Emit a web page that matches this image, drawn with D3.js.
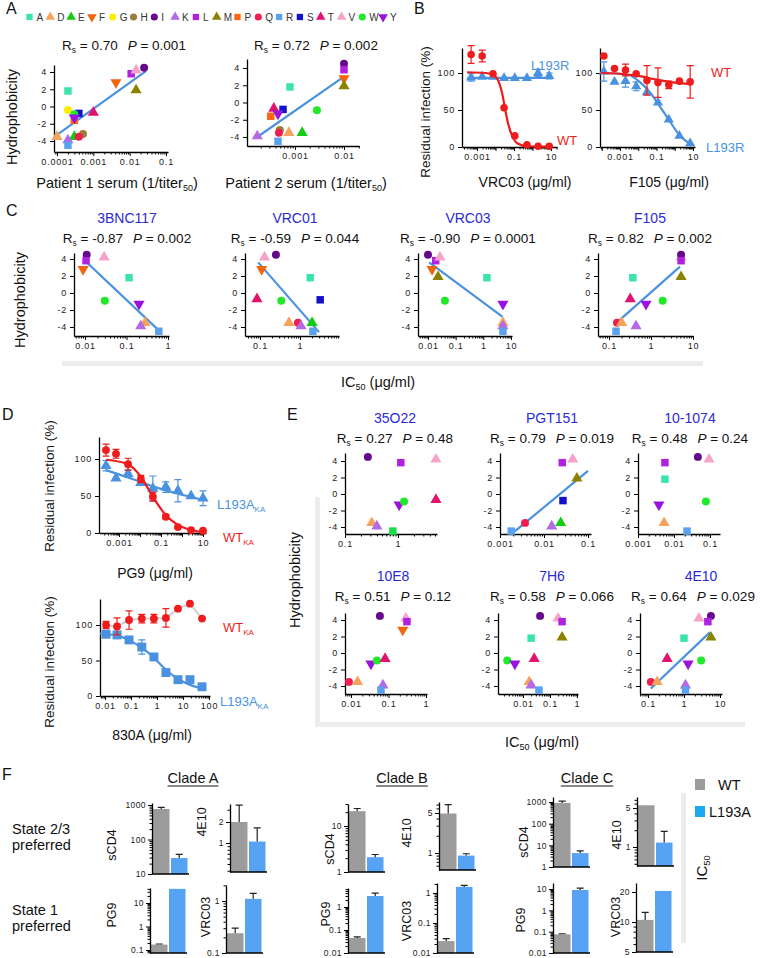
<!DOCTYPE html>
<html lang="en">
<head>
<meta charset="UTF-8">
<title>Position 193 hydrophobicity and neutralization</title>
<script src="https://cdn.jsdelivr.net/npm/d3@7/dist/d3.min.js"></script>
<style>
  body { margin: 0; background: #fff; }
  svg { display: block; font-family: Arial, "Liberation Sans", sans-serif; }
  .axis path.domain { stroke: #000; stroke-width: 1.3px; }
  .axis .tick line { stroke: #000; stroke-width: 1px; }
  .axis text { font-family: Arial, "Liberation Sans", sans-serif; font-size: 9px; letter-spacing: 0.8px; fill: #222; }
  .bar-axis text { font-size: 8.5px; letter-spacing: 0.4px; }
</style>
</head>
<body>
<svg width="760" height="958"></svg>
<script>
// ---------- data ----------
// residue at position 193 and its Kyte-Doolittle hydrophobicity
var aminoAcids = ["A","D","E","F","G","H","I","K","L","M","P","Q","R","S","T","V","W","Y"];
var hydrophobicity = [1.8,-3.5,-3.5,2.8,-0.4,-3.2,4.5,-3.9,3.8,1.9,-1.6,-3.5,-4.5,-0.8,-0.7,4.2,-0.9,-1.3];
var hydroTicks = [-4, -2, 0, 2, 4];
var infectionTicks = [0, 50, 100];

// A: serum sensitivity (1/titer50)
var patient1Serum = [["A",2e-4],["D",1e-4],["E",3e-4],["F",4.2e-3],["G",2e-4],["H",5.2e-4],["I",0.025],["K",2e-4],["L",0.011],["M",0.015],["P",3e-4],["Q",4e-4],["R",2e-4],["S",4e-4],["T",1e-3],["V",0.015],["W",3e-4],["Y",3e-4]];
var patient2Serum = [["A",7.9e-4],["D",7.5e-4],["E",1.4e-3],["F",0.01],["H",4.9e-4],["I",0.01],["K",1.7e-4],["L",0.01],["M",0.01],["P",3.2e-4],["Q",4.7e-4],["R",4.5e-4],["S",5.7e-4],["T",3.7e-4],["W",2.8e-3],["Y",4.5e-4]];
var patient1Fit = [[1e-4,-3.3],[0.028,4.1]];
var patient2Fit = [[1.7e-4,-4.0],[0.01,3.0]];
var aRs = ["0.70","0.72"], aP = ["0.001","0.002"];

// C: IC50 (ug/ml) of CD4bs antibodies
var cAntibodies = ["3BNC117","VRC01","VRC03","F105"];
var cRs = ["-0.87","-0.59","-0.90","0.82"], cP = ["0.002","0.044","0.0001","0.002"];
var ic50_3BNC117 = [["I",0.011],["L",0.0106],["F",0.009],["V",0.029],["A",0.115],["W",0.03],["Y",0.2],["D",0.28],["K",0.22],["R",0.6]];
var ic50_VRC01 = [["V",0.13],["I",0.25],["F",0.11],["A",1.8],["T",0.084],["W",0.34],["S",3.2],["D",0.53],["Q",0.89],["K",1.06],["E",2.0],["R",2.1]];
var ic50_VRC03 = [["I",0.01],["L",0.019],["V",0.027],["F",0.014],["M",0.023],["A",1.35],["W",0.041],["Y",5.1],["D",5.1],["K",5.1],["R",5.1]];
var ic50_F105 = [["V",5.2],["I",5.2],["L",5.2],["M",5.2],["A",0.37],["T",0.32],["Y",0.76],["W",1.9],["Q",0.155],["D",0.2],["K",0.44],["R",0.147]];
var fit_3BNC117 = [[0.01,3.8],[0.6,-4.4]];
var fit_VRC01 = [[0.09,3.6],[3,-4.6]];
var fit_VRC03 = [[0.011,3.6],[5,-2.8]];
var fit_F105 = [[0.16,-3.4],[4.9,3.1]];

// E: IC50 (ug/ml) of other antibodies
var eAntibodies = ["35O22","PGT151","10-1074","10E8","7H6","4E10"];
var eRs = ["0.27","0.79","0.48","0.51","0.58","0.64"], eP = ["0.48","0.019","0.24","0.12","0.066","0.029"];
var ic50_35O22 = [["I",0.27],["L",1.13],["V",5.2],["Y",1.05],["W",1.3],["T",5.2],["D",0.32],["K",0.4],["R",0.8]];
var ic50_PGT151 = [["L",0.026],["V",0.045],["M",0.056],["S",0.027],["E",0.024],["Q",0.0037],["K",0.015],["R",0.0018]];
var ic50_10_1074 = [["I",0.046],["V",0.094],["L",0.0056],["A",0.0056],["Y",0.0038],["W",0.077],["D",0.0053],["R",0.023]];
var ic50_10E8 = [["I",0.059],["V",0.29],["L",0.31],["F",0.24],["Y",0.034],["W",0.049],["T",0.081],["Q",0.0088],["D",0.015],["K",0.071],["R",0.063]];
var ic50_7H6 = [["I",0.043],["V",0.2],["L",0.28],["A",0.02],["M",0.28],["W",0.0026],["Y",0.005],["T",0.026],["D",0.017],["K",0.02],["R",0.039]];
var ic50_4E10 = [["V",2.6],["I",5.6],["L",4.6],["A",1.0],["M",5.6],["T",0.34],["Y",1.3],["W",3.0],["Q",0.12],["D",0.18],["K",1.1],["R",1.1]];
var fit_PGT151 = [[0.0022,-4.5],[0.1,2.8]];
var fit_4E10 = [[0.12,-4.3],[5.2,2.5]];

// B: dose response (% residual infection)
var vrc03Conc = [4.8e-4,1.9e-3,7.3e-3,0.029,0.11,0.5,2,8];
var vrc03WT = [125,123,99,53,15,3,1,1];
var vrc03WTErr = [12,8,0,0,0,0,0,0];
var vrc03L193R = [94,95,95,93,93,93,100,96];
var vrc03L193RErr = [5,0,0,0,0,0,5,4];
var vrc03WTCurve = [[2.9e-4,101],[3e-3,100],[0.008,97],[0.015,88],[0.025,68],[0.035,48],[0.05,30],[0.08,15],[0.15,5],[0.5,1],[8,0.5]];
var vrc03L193RCurve = [[3e-4,93.5],[8,93.5]];
var f105Conc = [1.3e-4,5e-4,2e-3,7.7e-3,0.03,0.12,0.47,1.8,7];
var f105WT = [123,106,104,99,90,87,84,89,88];
var f105WTErr = [0,0,8,0,20,20,5,0,22];
var f105L193R = [102,88,89,82,74,60,37,15,5];
var f105L193RErr = [13,0,8,6,0,0,0,0,0];
var f105WTCurve = [[9e-5,100],[1e-3,99],[0.01,96],[0.1,91],[1,87],[7,85]];
var f105L193RCurve = [[9e-5,100],[2.4e-3,98],[0.012,88],[0.05,72],[0.11,60],[0.44,38],[1.7,17],[8,3]];

// D: dose response of KA-modified envelopes
var pg9Conc = [2.4e-4,7.2e-4,2.7e-3,0.011,0.041,0.17,0.64,2.7,10];
var pg9WT = [112,107,93,73,49,22,8,4,3];
var pg9WTErr = [8,6,8,5,6,3,0,0,0];
var pg9L193A = [91,74,80,68,60,62,57,50,47];
var pg9L193AErr = [7,0,5,0,17,7,15,0,10];
var pg9WTCurve = [[2.4e-4,99],[2.7e-3,93],[0.011,76],[0.041,49],[0.17,24],[0.64,11],[2.7,4],[10,1]];
var pg9L193ACurve = [[2.4e-4,85],[2.7e-3,75],[0.041,63],[0.64,53],[10,45]];
var a830Conc = [0.011,0.029,0.084,0.26,0.76,2.2,6.4,18.5,54];
var a830WT = [100,98,107,109,109,110,123,130,109];
var a830WTErr = [5,12,13,6,6,13,0,0,0];
var a830L193A = [87,86,79,69,55,33,23,23,13];
var a830L193AErr = [0,0,0,10,0,0,0,0,0];
var a830L193ACurve = [[0.0064,88],[0.03,85],[0.09,78],[0.26,68],[0.7,55],[2.2,37],[6.4,24],[18,16],[58,10]];

// F: IC50 bars, order per clade: sCD4, 4E10, PG9, VRC03
var clades = ["Clade A","Clade B","Clade C"];
var barReagents = ["sCD4","4E10","PG9","VRC03"];
var barWT = [[765,2.0,0.17,0.24],[21,4.9,0.045,0.025],[900,5.6,0.075,10.5]];
var barWTErr = [[850,3.5,0.18,0.3],[24,7,0.05,0.03],[1100,null,0.08,12.5]];
var barL193A = [[29,1.05,40,1.1],[2.1,0.9,3,1.6],[4.4,1.2,9,20.5]];
var barL193AErr = [[37,1.65,null,1.4],[2.4,0.97,4,1.8],[5.5,1.9,11,null]];

// ---------- styles ----------
var aaStyle = {
  A: ["square", "#3de3ae"], D: ["tri", "#f5a35c"], E: ["tri", "#14cc14"], F: ["down", "#f2650f"],
  G: ["circle", "#ffee00"], H: ["circle", "#9a7f3c"], I: ["circle", "#650a8a"], K: ["tri", "#b46ae4"],
  L: ["square", "#b021e0"], M: ["tri", "#8a8200"], P: ["square", "#ff6512"], Q: ["circle", "#f01e50"],
  R: ["square", "#5aa2ef"], S: ["square", "#1212c8"], T: ["tri", "#e0146e"], V: ["tri", "#f5a3cb"],
  W: ["circle", "#22e82a"], Y: ["down", "#9a12dc"]
};
var RED = "#ee1c1c", BLUE = "#4a92e0", TITLE = "#2b2bd6", BAND = "#ececec";

var svg = d3.select("svg");

// ---------- helpers ----------
function anchorLog(v0, p0, v1, p1, a0, a1) {
  var s = d3.scaleLog().domain([v0, v1]).range([p0, p1]);
  return d3.scaleLog().domain([s.invert(a0), s.invert(a1)]).range([a0, a1]);
}
function anchorLin(v0, p0, v1, p1, a0, a1) {
  var s = d3.scaleLinear().domain([v0, v1]).range([p0, p1]);
  return d3.scaleLinear().domain([s.invert(a0), s.invert(a1)]).range([a0, a1]);
}
function fmtNum(v) { return String(+v.toPrecision(4)); }
function isPow10(v) { var l = Math.log10(v); return Math.abs(l - Math.round(l)) < 1e-6; }
function hasVal(list, v) { return list.some(function (l) { return Math.abs(l - v) <= Math.abs(l) * 1e-6; }); }
function logTicks(dom) {
  var lo = Math.min(dom[0], dom[1]), hi = Math.max(dom[0], dom[1]), out = [];
  for (var e = -6; e <= 4; e++) for (var m = 1; m <= 9; m++) {
    var v = +(m * Math.pow(10, e)).toPrecision(4);
    if (v >= lo * 0.9999 && v <= hi * 1.0001) out.push(v);
  }
  return out;
}
function xLogAxis(g, x, y0, labels) {
  var ag = g.append("g").attr("class", "axis").attr("transform", "translate(0," + y0 + ")")
    .call(d3.axisBottom(x).tickValues(logTicks(x.domain())).tickSize(4).tickSizeOuter(0)
      .tickFormat(function (v) { return hasVal(labels, v) ? fmtNum(v) : ""; }));
  ag.selectAll(".tick").filter(function (v) { return !isPow10(v); }).select("line").attr("y2", 2.5);
}
function marker(g, shape, color, cx, cy, size) {
  var type = shape === "circle" ? d3.symbolCircle : shape === "square" ? d3.symbolSquare : d3.symbolTriangle;
  g.append("path").attr("d", d3.symbol(type, size)()).attr("fill", color)
    .attr("transform", "translate(" + cx + "," + cy + ")" + (shape === "down" ? " rotate(180)" : ""));
}
function txt(x, y, s, size, opt) {
  opt = opt || {};
  var t = svg.append("text").attr("x", x).attr("y", y).style("font-size", size + "px")
    .attr("text-anchor", opt.anchor || "start").attr("fill", opt.fill || "#111");
  if (opt.rot) t.attr("transform", "rotate(-90," + x + "," + y + ")");
  if (s !== null) t.text(s);
  return t;
}
function withSub(t, main, sub, after) {
  t.append("tspan").text(main);
  t.append("tspan").attr("dy", 3).style("font-size", "0.62em").text(sub);
  if (after) t.append("tspan").attr("dy", -3).text(after);
  return t;
}
function rsLabel(x, y, rs, p) {
  var t = txt(x, y, null, 13.5, { anchor: "middle" });
  withSub(t, "R", "s", " = " + rs);
  t.append("tspan").attr("dx", 10).style("font-style", "italic").text("P");
  t.append("tspan").text(" = " + p);
}

// ---------- scatter panels (A, C, E) ----------
function drawScatter(c) {
  var g = svg.append("g");
  var x = anchorLog(c.xa[0], c.xa[1], c.xa[2], c.xa[3], c.xr[0], c.xr[1]);
  var y = anchorLin(4, c.ya[0], -4, c.ya[1], c.yr[0], c.yr[1]);
  xLogAxis(g, x, c.yr[0], c.labels);
  g.append("g").attr("class", "axis").attr("transform", "translate(" + c.xr[0] + ",0)")
    .call(d3.axisLeft(y).tickValues(hydroTicks).tickSize(4).tickSizeOuter(0).tickFormat(function (v) { return String(v); }));
  if (c.fit) {
    g.append("path").attr("d", d3.line().x(function (d) { return x(d[0]); }).y(function (d) { return y(d[1]); })(c.fit))
      .attr("fill", "none").attr("stroke", BLUE).attr("stroke-width", 2.2);
  }
  c.pts.forEach(function (p) {
    var st = aaStyle[p[0]], col = (c.recolor && c.recolor[p[0]]) || st[1];
    marker(g, st[0], col, x(p[1]), y(hydrophobicity[aminoAcids.indexOf(p[0])]), st[0] === "circle" ? 50 : st[0] === "square" ? 56 : 54);
  });
}

var scatterXTicks = [
  [1e-4, 1e-3, 0.01, 0.1], [1e-4, 1e-3, 0.01],
  [0.01, 0.1, 1], [0.1, 1, 10], [0.01, 0.1, 1, 10], [0.1, 1, 10],
  [0.1, 1], [0.001, 0.01, 0.1], [0.001, 0.01, 0.1],
  [0.01, 0.1, 1], [0.01, 0.1, 1], [0.1, 1, 10]
];
var scatters = [
  { pts: patient1Serum, fit: patient1Fit, xr: [54, 168], xa: [1e-4, 57, 0.1, 166], yr: [152, 65], ya: [72, 141] },
  { pts: patient2Serum, fit: patient2Fit, xr: [247, 359], xa: [1e-4, 246, 0.01, 344], yr: [146, 59], ya: [68, 137] },
  { pts: ic50_3BNC117, fit: fit_3BNC117, xr: [74, 169], xa: [0.01, 85, 1, 168], yr: [336, 253], ya: [259, 327] },
  { pts: ic50_VRC01, fit: fit_VRC01, xr: [245, 339], xa: [0.1, 260, 10, 340], yr: [336, 253], ya: [259, 327] },
  { pts: ic50_VRC03, fit: fit_VRC03, xr: [418, 512], xa: [0.01, 428, 10, 511], yr: [336, 253], ya: [259, 327] },
  { pts: ic50_F105, fit: fit_F105, xr: [598, 693], xa: [0.1, 609, 10, 693], yr: [336, 253], ya: [259, 327] },
  { pts: ic50_35O22, xr: [345, 437], xa: [0.1, 345, 1, 398], yr: [534, 453], ya: [461, 527], recolor: { R: "#18dc48" } },
  { pts: ic50_PGT151, fit: fit_PGT151, xr: [500, 591], xa: [0.001, 500, 0.1, 588], yr: [534, 453], ya: [461, 527] },
  { pts: ic50_10_1074, xr: [638, 720], xa: [0.001, 638, 0.1, 710], yr: [534, 453], ya: [461, 527] },
  { pts: ic50_10E8, xr: [345, 427], xa: [0.01, 351, 1, 426], yr: [694, 613], ya: [620, 686] },
  { pts: ic50_7H6, xr: [498, 578], xa: [0.01, 523, 1, 577], yr: [694, 613], ya: [620, 686] },
  { pts: ic50_4E10, fit: fit_4E10, xr: [640, 722], xa: [0.1, 648, 10, 720], yr: [694, 613], ya: [620, 686] }
];

// grey guide bands
svg.append("rect").attr("x", 62).attr("y", 361).attr("width", 641).attr("height", 5).attr("fill", BAND);
svg.append("rect").attr("x", 315).attr("y", 497).attr("width", 5).attr("height", 230).attr("fill", BAND);
svg.append("rect").attr("x", 315).attr("y", 722).attr("width", 430).attr("height", 5).attr("fill", BAND);
svg.append("rect").attr("x", 681).attr("y", 793).attr("width", 5).attr("height", 150).attr("fill", BAND);

scatters.forEach(function (c, i) { c.labels = scatterXTicks[i]; drawScatter(c); });

// ---------- dose response panels (B, D) ----------
function drawDose(c) {
  var g = svg.append("g");
  var x = anchorLog(c.xa[0], c.xa[1], c.xa[2], c.xa[3], c.xr[0], c.xr[1]);
  var y = anchorLin(100, c.ya[0], 0, c.ya[1], c.yr[0], c.yr[1]);
  xLogAxis(g, x, c.yr[0], c.labels);
  g.append("g").attr("class", "axis").attr("transform", "translate(" + c.xr[0] + ",0)")
    .call(d3.axisLeft(y).tickValues(infectionTicks).tickSize(4).tickSizeOuter(0));
  c.series.forEach(function (s) {
    var pts = s.conc.map(function (v, i) { return [v, s.val[i], s.err[i]]; });
    if (s.link) {
      g.append("path").attr("d", d3.line().x(function (d) { return x(d[0]); }).y(function (d) { return y(d[1]); })(pts))
        .attr("fill", "none").attr("stroke", "#cfcfcf").attr("stroke-width", 2);
    }
    if (s.curve) {
      g.append("path").attr("d", d3.line().curve(d3.curveMonotoneX).x(function (d) { return x(d[0]); }).y(function (d) { return y(d[1]); })(s.curve))
        .attr("fill", "none").attr("stroke", s.color).attr("stroke-width", 2.2);
    }
    pts.forEach(function (d) {
      if (!d[2]) return;
      var cx = x(d[0]), y1 = y(d[1] - d[2]), y2 = y(d[1] + d[2]);
      g.append("path").attr("d", "M" + cx + "," + y1 + "V" + y2 + "M" + (cx - 3.5) + "," + y1 + "h7M" + (cx - 3.5) + "," + y2 + "h7")
        .attr("stroke", s.color).attr("stroke-width", 1.2).attr("fill", "none");
    });
    pts.forEach(function (d) { marker(g, s.shape, s.color, x(d[0]), y(d[1]), s.size); });
  });
}

drawDose({ xr: [462, 557], xa: [0.001, 477, 10, 551], yr: [147, 48], ya: [73, 147], labels: [0.001, 0.1, 10], series: [
  { conc: vrc03Conc, val: vrc03L193R, err: vrc03L193RErr, curve: vrc03L193RCurve, color: BLUE, shape: "tri", size: 45 },
  { conc: vrc03Conc, val: vrc03WT, err: vrc03WTErr, curve: vrc03WTCurve, color: RED, shape: "circle", size: 45 }] });
drawDose({ xr: [600, 695], xa: [0.001, 620, 10, 693], yr: [147, 48], ya: [73, 147], labels: [0.001, 0.1, 10], series: [
  { conc: f105Conc, val: f105L193R, err: f105L193RErr, curve: f105L193RCurve, color: BLUE, shape: "tri", size: 45 },
  { conc: f105Conc, val: f105WT, err: f105WTErr, curve: f105WTCurve, color: RED, shape: "circle", size: 45 }] });
drawDose({ xr: [99, 206], xa: [0.001, 119, 10, 203], yr: [533, 437], ya: [459, 533], labels: [0.001, 0.1, 10], series: [
  { conc: pg9Conc, val: pg9L193A, err: pg9L193AErr, curve: pg9L193ACurve, color: BLUE, shape: "tri", size: 55 },
  { conc: pg9Conc, val: pg9WT, err: pg9WTErr, curve: pg9WTCurve, color: RED, shape: "circle", size: 48 }] });
drawDose({ xr: [100, 210], xa: [0.01, 105, 100, 209], yr: [696, 599], ya: [625, 696], labels: [0.01, 0.1, 1, 10, 100], series: [
  { conc: a830Conc, val: a830L193A, err: a830L193AErr, curve: a830L193ACurve, color: BLUE, shape: "square", size: 80 },
  { conc: a830Conc, val: a830WT, err: a830WTErr, link: true, color: RED, shape: "circle", size: 48 }] });

// ---------- bar panels (F) ----------
var barLayout = [
  [{ ax: 152, top: 803, bot: 874, an: [1000, 805, 10, 874], labels: [10, 100, 1000], lx: 116, ly: 845 },
   { ax: 230, top: 804, bot: 872, an: [2, 822, 1, 843], labels: [1, 2], lx: 206, ly: 822 },
   { ax: 150, top: 888, bot: 953, an: [10, 903, 0.1, 950], labels: [0.1, 1, 10], lx: 116, ly: 915 },
   { ax: 226, top: 885, bot: 953, an: [1, 901, 0.1, 953], labels: [0.1, 1], lx: 210, ly: 917 }],
  [{ ax: 348, top: 804, bot: 872, an: [10, 826, 1, 872], labels: [1, 10], lx: 334, ly: 849 },
   { ax: 439, top: 802, bot: 870, an: [5, 813, 1, 853], labels: [1, 5], lx: 411, ly: 833 },
   { ax: 348, top: 888, bot: 953, an: [1, 907, 0.01, 953], labels: [0.01, 0.1, 1], lx: 330, ly: 914 },
   { ax: 437, top: 883, bot: 953, an: [1, 893, 0.01, 953], labels: [0.01, 0.1, 1], lx: 411, ly: 921 }],
  [{ ax: 553, top: 797, bot: 867, an: [1000, 802, 1, 867], labels: [1, 10, 100, 1000], lx: 528, ly: 842 },
   { ax: 637, top: 797, bot: 866, an: [5, 808, 1, 847], labels: [1, 5], lx: 621, ly: 835 },
   { ax: 553, top: 883, bot: 953, an: [10, 889, 0.01, 953], labels: [0.01, 0.1, 1, 10], lx: 525, ly: 920 },
   { ax: 636, top: 883, bot: 952, an: [20, 892, 5, 952], labels: [5, 10, 20], lx: 620, ly: 917 }]
];

function drawBar(c, name, vals, errs) {
  var g = svg.append("g");
  var y = anchorLog(c.an[0], c.an[1], c.an[2], c.an[3], c.bot, c.top);
  [["#9c9c9c", 1], ["#55a3f2", 19]].forEach(function (b, i) {
    var top = Math.max(y(vals[i]), c.top), cx = c.ax + b[1] + 8.2;
    g.append("rect").attr("x", c.ax + b[1]).attr("y", top).attr("width", 16.5).attr("height", c.bot - top).attr("fill", b[0]);
    if (errs[i] != null) {
      var ye = y(errs[i]);
      g.append("path").attr("d", "M" + cx + "," + top + "V" + ye + "M" + (cx - 3.5) + "," + ye + "h7")
        .attr("stroke", "#222").attr("stroke-width", 1.2).attr("fill", "none");
    }
  });
  var ag = g.append("g").attr("class", "axis bar-axis").attr("transform", "translate(" + c.ax + ",0)")
    .call(d3.axisLeft(y).tickValues(logTicks(y.domain())).tickSize(4).tickPadding(2).tickSizeOuter(0)
      .tickFormat(function (v) { return hasVal(c.labels, v) ? fmtNum(v) : ""; }));
  ag.selectAll(".tick").filter(function (v) { return !(isPow10(v) || hasVal(c.labels, v)); }).select("line").attr("x2", -2.5);
  g.append("line").attr("x1", c.ax).attr("x2", c.ax + 37).attr("y1", c.bot).attr("y2", c.bot).attr("stroke", "#000").attr("stroke-width", 1.3);
  txt(c.lx, c.ly, name, 12.5, { anchor: "middle", rot: true });
}

barLayout.forEach(function (row, ci) {
  row.forEach(function (c, ri) {
    drawBar(c, barReagents[ri], [barWT[ci][ri], barL193A[ci][ri]], [barWTErr[ci][ri], barL193AErr[ci][ri]]);
  });
});

// ---------- text ----------
// panel letters
[["A", 6, 14], ["B", 414, 14], ["C", 6, 216], ["D", 2, 420], ["E", 287, 420], ["F", 2, 780]].forEach(function (p) {
  txt(p[1], p[2], p[0], 16);
});

// residue legend
aminoAcids.forEach(function (aa, i) {
  var cx = 29.5 + i * 20.8, st = aaStyle[aa];
  marker(svg, st[0], st[1], cx, 17, 40);
  txt(cx + 7, 21, aa, 10, { fill: "#333" });
});

// A
rsLabel(124, 50, aRs[0], aP[0]);
rsLabel(316, 50, aRs[1], aP[1]);
txt(17, 117, "Hydrophobicity", 14.5, { anchor: "middle", rot: true });
withSub(txt(117, 188, null, 14.5, { anchor: "middle" }), "Patient 1 serum (1/titer", "50", ")");
withSub(txt(306, 188, null, 14.5, { anchor: "middle" }), "Patient 2 serum (1/titer", "50", ")");

// B
txt(430, 112, "Residual infection (%)", 13.5, { anchor: "middle", rot: true });
txt(525, 187, "VRC03 (\u03bcg/ml)", 14, { anchor: "middle" });
txt(669, 187, "F105 (\u03bcg/ml)", 14, { anchor: "middle" });
txt(531, 70, "L193R", 13, { fill: BLUE });
txt(557, 145, "WT", 13, { fill: RED });
txt(711, 77, "WT", 13, { fill: RED });
txt(706, 152, "L193R", 13, { fill: BLUE });

// C
var cCenters = [127, 295, 468, 650];
cAntibodies.forEach(function (name, i) {
  txt(cCenters[i], 223, name, 14, { anchor: "middle", fill: TITLE });
  rsLabel(cCenters[i], 243, cRs[i], cP[i]);
});
txt(25, 300, "Hydrophobicity", 14.5, { anchor: "middle", rot: true });
withSub(txt(378, 387, null, 14.5, { anchor: "middle" }), "IC", "50", " (\u03bcg/ml)");

// D
txt(54, 486, "Residual infection (%)", 13.5, { anchor: "middle", rot: true });
txt(54, 662, "Residual infection (%)", 13.5, { anchor: "middle", rot: true });
txt(155, 578, "PG9 (\u03bcg/ml)", 14, { anchor: "middle" });
txt(152, 740, "830A (\u03bcg/ml)", 14, { anchor: "middle" });
withSub(txt(217, 509, null, 13, { fill: BLUE }), "L193A", "KA");
withSub(txt(223, 542, null, 13, { fill: RED }), "WT", "KA");
withSub(txt(223, 632, null, 13, { fill: RED }), "WT", "KA");
withSub(txt(220, 706, null, 13, { fill: BLUE }), "L193A", "KA");

// E
var eCenters = [[395, 423, 443], [552, 423, 443], [690, 423, 443], [393, 581, 601], [552, 581, 601], [693, 581, 601]];
eAntibodies.forEach(function (name, i) {
  var p = eCenters[i];
  txt(p[0] + (i === 5 ? 8 : 0), p[1], name, 14, { anchor: "middle", fill: TITLE });
  rsLabel(p[0], p[2], eRs[i], eP[i]);
});
txt(300, 580, "Hydrophobicity", 14.5, { anchor: "middle", rot: true });
withSub(txt(542, 747, null, 14.5, { anchor: "middle" }), "IC", "50", " (\u03bcg/ml)");

// F
[193, 402, 587].forEach(function (cx, i) {
  var t = txt(cx, 783, clades[i], 14.5, { anchor: "middle" });
  var w = t.node().getComputedTextLength();
  svg.append("line").attr("x1", cx - w / 2).attr("x2", cx + w / 2).attr("y1", 786).attr("y2", 786).attr("stroke", "#111").attr("stroke-width", 1);
});
txt(12, 834, "State 2/3", 14.5);
txt(12, 850, "preferred", 14.5);
txt(12, 915, "State 1", 14.5);
txt(12, 931, "preferred", 14.5);
svg.append("rect").attr("x", 695).attr("y", 779).attr("width", 10).attr("height", 11).attr("fill", "#9c9c9c");
txt(718, 790, "WT", 14.5);
svg.append("rect").attr("x", 695).attr("y", 806).attr("width", 10).attr("height", 11).attr("fill", "#1ea8ef");
txt(709, 817, "L193A", 14.5);
withSub(txt(707, 868, null, 15, { anchor: "middle", rot: true }), "IC", "50");
</script>
</body>
</html>
